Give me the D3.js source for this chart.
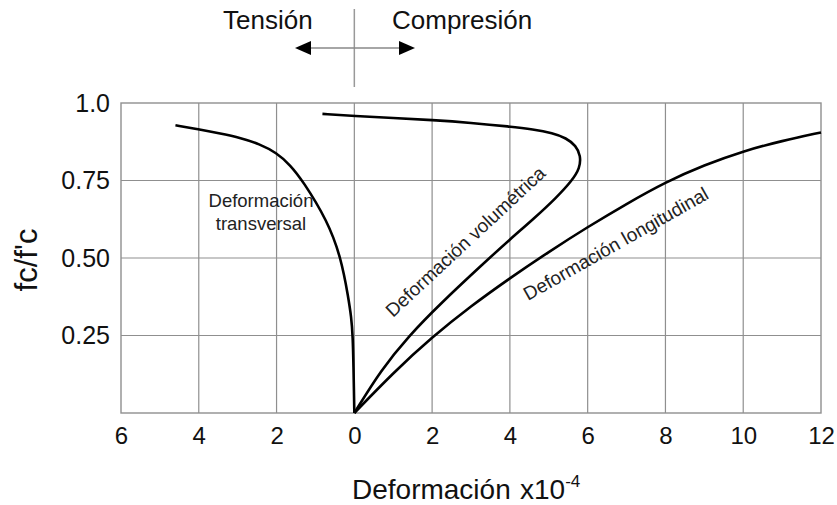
<!DOCTYPE html>
<html>
<head>
<meta charset="utf-8">
<script src="https://cdn.jsdelivr.net/npm/d3@7"></script>
<style>
  body { margin: 0; background: #fff; }
  svg { font-family: "Liberation Sans", Arial, sans-serif; }
</style>
</head>
<body>
<svg id="chart" width="837" height="505"></svg>
<script>
// deformacion (x10^-4), negativo = tension
var xTicks = [-6, -4, -2, 0, 2, 4, 6, 8, 10, 12];
var yTicks = [0.25, 0.50, 0.75, 1.0];
var yTickLabels = ["0.25", "0.50", "0.75", "1.0"];

// curvas: [deformacion, fc/f'c]
var transversal = [
  [0, 0], [-0.01, 0.07], [-0.02, 0.14], [-0.04, 0.25], [-0.08, 0.31], [-0.15, 0.37],
  [-0.34, 0.5], [-0.69, 0.62], [-1.33, 0.75], [-1.65, 0.8], [-2.0, 0.84],
  [-2.45, 0.868], [-2.9, 0.887], [-3.5, 0.903], [-4.0, 0.915], [-4.6, 0.928]
];
var volumetrica = [
  [0, 0], [0.69, 0.14], [1.41, 0.25], [2.19, 0.35], [3.3, 0.48], [4, 0.56],
  [4.6, 0.625], [5.2, 0.695], [5.6, 0.75], [5.8, 0.79], [5.82, 0.83],
  [5.7, 0.862], [5.45, 0.887], [5.1, 0.903], [4.6, 0.915], [4, 0.924], [3, 0.936],
  [2, 0.945], [1, 0.952], [0, 0.958], [-0.82, 0.965]
];
var longitudinal = [
  [0, 0], [1, 0.13], [2, 0.245], [3, 0.345], [4, 0.435], [5, 0.52], [6, 0.6],
  [7, 0.675], [8, 0.745], [9, 0.8], [10, 0.845], [11, 0.878], [12, 0.905]
];

var svg = d3.select("#chart");
var plotL = 121, plotR = 821, plotT = 103, plotB = 413;

var x = d3.scaleLinear().domain([-6, 12]).range([plotL, plotR]);
var y = d3.scaleLinear().domain([0, 1]).range([plotB, plotT]);

var gridColor = "#8f8f8f";

// rejilla
svg.append("g").selectAll("line")
  .data(xTicks.slice(1, -1)).enter()
  .append("line")
  .attr("x1", function(d) { return x(d); }).attr("x2", function(d) { return x(d); })
  .attr("y1", plotT).attr("y2", plotB)
  .attr("stroke", gridColor).attr("stroke-width", 1.2);

svg.append("g").selectAll("line")
  .data(yTicks.slice(0, -1)).enter()
  .append("line")
  .attr("x1", plotL).attr("x2", plotR)
  .attr("y1", function(d) { return y(d); }).attr("y2", function(d) { return y(d); })
  .attr("stroke", gridColor).attr("stroke-width", 1.2);

svg.append("rect")
  .attr("x", plotL).attr("y", plotT)
  .attr("width", plotR - plotL).attr("height", plotB - plotT)
  .attr("fill", "none").attr("stroke", gridColor).attr("stroke-width", 1.4);

// ejes (solo etiquetas)
var xAxis = d3.axisBottom(x).tickValues(xTicks)
  .tickFormat(function(d) { return Math.abs(d); }).tickSize(0).tickPadding(14);
var gx = svg.append("g").attr("transform", "translate(0," + plotB + ")").call(xAxis);
gx.select(".domain").remove();
gx.selectAll("text").attr("font-size", 24).attr("fill", "#111")
  .attr("font-family", "Liberation Sans, Arial, sans-serif");

var yAxis = d3.axisLeft(y).tickValues(yTicks)
  .tickFormat(function(d, i) { return yTickLabels[i]; }).tickSize(0).tickPadding(11);
var gy = svg.append("g").attr("transform", "translate(" + plotL + ",0)").call(yAxis);
gy.select(".domain").remove();
gy.selectAll("text").attr("font-size", 25).attr("fill", "#111")
  .attr("font-family", "Liberation Sans, Arial, sans-serif");

// curvas
var line = d3.line()
  .x(function(d) { return x(d[0]); })
  .y(function(d) { return y(d[1]); })
  .curve(d3.curveBasis);

[transversal, volumetrica, longitudinal].forEach(function(c) {
  svg.append("path").datum(c)
    .attr("d", line)
    .attr("fill", "none")
    .attr("stroke", "#000")
    .attr("stroke-width", 2.6);
});

// etiquetas de curvas
svg.append("text").attr("x", 261).attr("y", 207).attr("text-anchor", "middle")
  .attr("font-size", 18.5).attr("fill", "#222").text("Deformación");
svg.append("text").attr("x", 261).attr("y", 230).attr("text-anchor", "middle")
  .attr("font-size", 18.5).attr("fill", "#222").text("transversal");

svg.append("text").attr("transform", "translate(393,318) rotate(-43)")
  .attr("font-size", 19).attr("fill", "#222").text("Deformación volumétrica");
svg.append("text").attr("transform", "translate(528,301) rotate(-29.5)")
  .attr("font-size", 19).attr("fill", "#222").text("Deformación longitudinal");

// titulos de ejes
svg.append("text").attr("transform", "translate(37,260) rotate(-90)")
  .attr("text-anchor", "middle").attr("font-size", 31).attr("fill", "#111")
  .text("fc/f'c");

svg.append("text").attr("x", 352).attr("y", 499)
  .attr("font-size", 28).attr("fill", "#111").text("Deformación");
var xl = svg.append("text").attr("x", 520).attr("y", 499)
  .attr("font-size", 28).attr("fill", "#111");
xl.append("tspan").text("x10");
xl.append("tspan").attr("font-size", 17).attr("dy", -12).text("-4");

// tension / compresion
var cx = x(0);
svg.append("line").attr("x1", cx).attr("x2", cx).attr("y1", 9).attr("y2", 87)
  .attr("stroke", "#999").attr("stroke-width", 1.5);
svg.append("line").attr("x1", 306).attr("x2", 404).attr("y1", 48).attr("y2", 48)
  .attr("stroke", "#888").attr("stroke-width", 1.5);
svg.append("path").attr("d", "M295,48 L311,41 L311,55 Z").attr("fill", "#000");
svg.append("path").attr("d", "M415,48 L399,41 L399,55 Z").attr("fill", "#000");

svg.append("text").attr("x", 223).attr("y", 29).attr("font-size", 26)
  .attr("fill", "#111").text("Tensión");
svg.append("text").attr("x", 392).attr("y", 29).attr("font-size", 26)
  .attr("fill", "#111").text("Compresión");
</script>
</body>
</html>
